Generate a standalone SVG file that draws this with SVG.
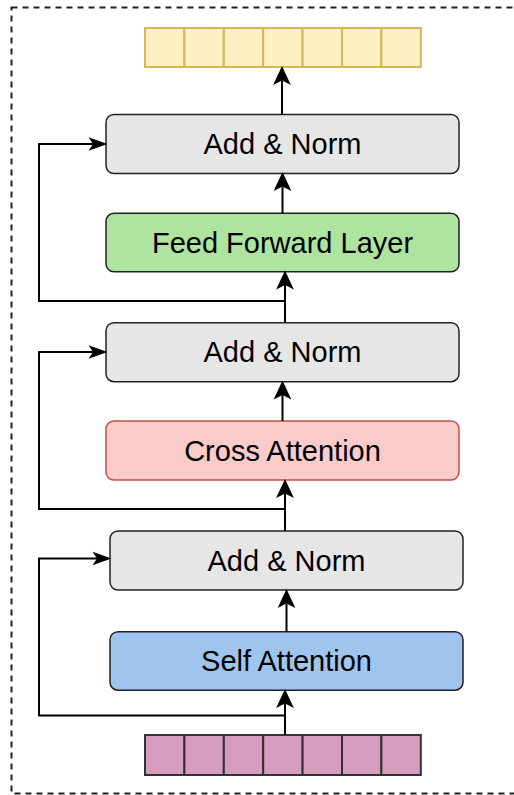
<svg xmlns="http://www.w3.org/2000/svg" width="514" height="795" viewBox="0 0 514 795">
  <defs>
    <marker id="arrV" markerUnits="userSpaceOnUse" markerWidth="20" markerHeight="20" viewBox="0 -9 18 18" refX="4" refY="0" orient="auto" overflow="visible">
      <path d="M0,-8 L17,0 L0,8 L4,0 Z" fill="#000"/>
    </marker>
    <marker id="arrH" markerUnits="userSpaceOnUse" markerWidth="20" markerHeight="20" viewBox="0 -9 18 18" refX="4" refY="0" orient="auto" overflow="visible">
      <path d="M0,-6 L17,0 L0,6 L4,0 Z" fill="#000"/>
    </marker>
  </defs>
  <style>
    .box { stroke: #222; stroke-width: 1.5; }
    .gray { fill: #e6e6e6; }
    .green { fill: #aee3a0; }
    .red { fill: #f9cbc9; stroke: #c0504d; }
    .blue { fill: #9fc5ee; }
    .lbl { font-family: "Liberation Sans", Arial, Helvetica, sans-serif; font-size: 29px; fill: #000; text-anchor: middle; }
    .cellY { fill: #fff0c4; stroke: #d6b656; stroke-width: 2; }
    .cellP { fill: #d69dc0; stroke: #333; stroke-width: 2; }
    .conn { fill: none; stroke: #000; stroke-width: 2; }
    .v { marker-end: url(#arrV); }
    .h { marker-end: url(#arrH); }
  </style>

  <rect x="11.5" y="7.5" width="530" height="786" fill="none" stroke="#222" stroke-width="2" stroke-dasharray="6 5"/>

  <g id="output-array">
    <rect class="cellY" x="145" y="28" width="39.4" height="39"/>
    <rect class="cellY" x="184.4" y="28" width="39.4" height="39"/>
    <rect class="cellY" x="223.8" y="28" width="39.4" height="39"/>
    <rect class="cellY" x="263.2" y="28" width="39.4" height="39"/>
    <rect class="cellY" x="302.6" y="28" width="39.4" height="39"/>
    <rect class="cellY" x="342" y="28" width="39.4" height="39"/>
    <rect class="cellY" x="381.4" y="28" width="39.4" height="39"/>
  </g>

  <g id="add-norm-3">
    <rect class="box gray" x="106" y="114.5" width="353" height="59" rx="8"/>
    <text class="lbl" x="282.5" y="154.3">Add &amp; Norm</text>
  </g>

  <g id="feed-forward">
    <rect class="box green" x="106" y="213.3" width="353" height="58.5" rx="8"/>
    <text class="lbl" x="282.5" y="252.8">Feed Forward Layer</text>
  </g>

  <g id="add-norm-2">
    <rect class="box gray" x="106" y="322.7" width="353" height="59" rx="8"/>
    <text class="lbl" x="282.5" y="362.3">Add &amp; Norm</text>
  </g>

  <g id="cross-attention">
    <rect class="box red" x="106" y="421" width="353" height="59" rx="8"/>
    <text class="lbl" x="282.5" y="461.3">Cross Attention</text>
  </g>

  <g id="add-norm-1">
    <rect class="box gray" x="110" y="531" width="353" height="59" rx="8"/>
    <text class="lbl" x="286.5" y="571.2">Add &amp; Norm</text>
  </g>

  <g id="self-attention">
    <rect class="box blue" x="110" y="631.7" width="353" height="58.5" rx="8"/>
    <text class="lbl" x="286.5" y="671.3">Self Attention</text>
  </g>

  <g id="input-array">
    <rect class="cellP" x="145" y="735" width="39.4" height="40"/>
    <rect class="cellP" x="184.4" y="735" width="39.4" height="40"/>
    <rect class="cellP" x="223.8" y="735" width="39.4" height="40"/>
    <rect class="cellP" x="263.2" y="735" width="39.4" height="40"/>
    <rect class="cellP" x="302.6" y="735" width="39.4" height="40"/>
    <rect class="cellP" x="342" y="735" width="39.4" height="40"/>
    <rect class="cellP" x="381.4" y="735" width="39.4" height="40"/>
  </g>

  <g id="connectors">
    <path class="conn v" d="M282,114.5 V80.5"/>
    <path class="conn v" d="M282.5,213.3 V186.5"/>
    <path class="conn v" d="M285,322.7 V285"/>
    <path class="conn h" d="M285,301 H39 V144 H93"/>
    <path class="conn v" d="M282.5,421 V395"/>
    <path class="conn v" d="M285,531 V493.5"/>
    <path class="conn h" d="M285,509 H39 V352 H93"/>
    <path class="conn v" d="M286.5,631.7 V603.5"/>
    <path class="conn v" d="M285,735 V703.5"/>
    <path class="conn h" d="M285,715.5 H39 V558.5 H97"/>
  </g>
</svg>
